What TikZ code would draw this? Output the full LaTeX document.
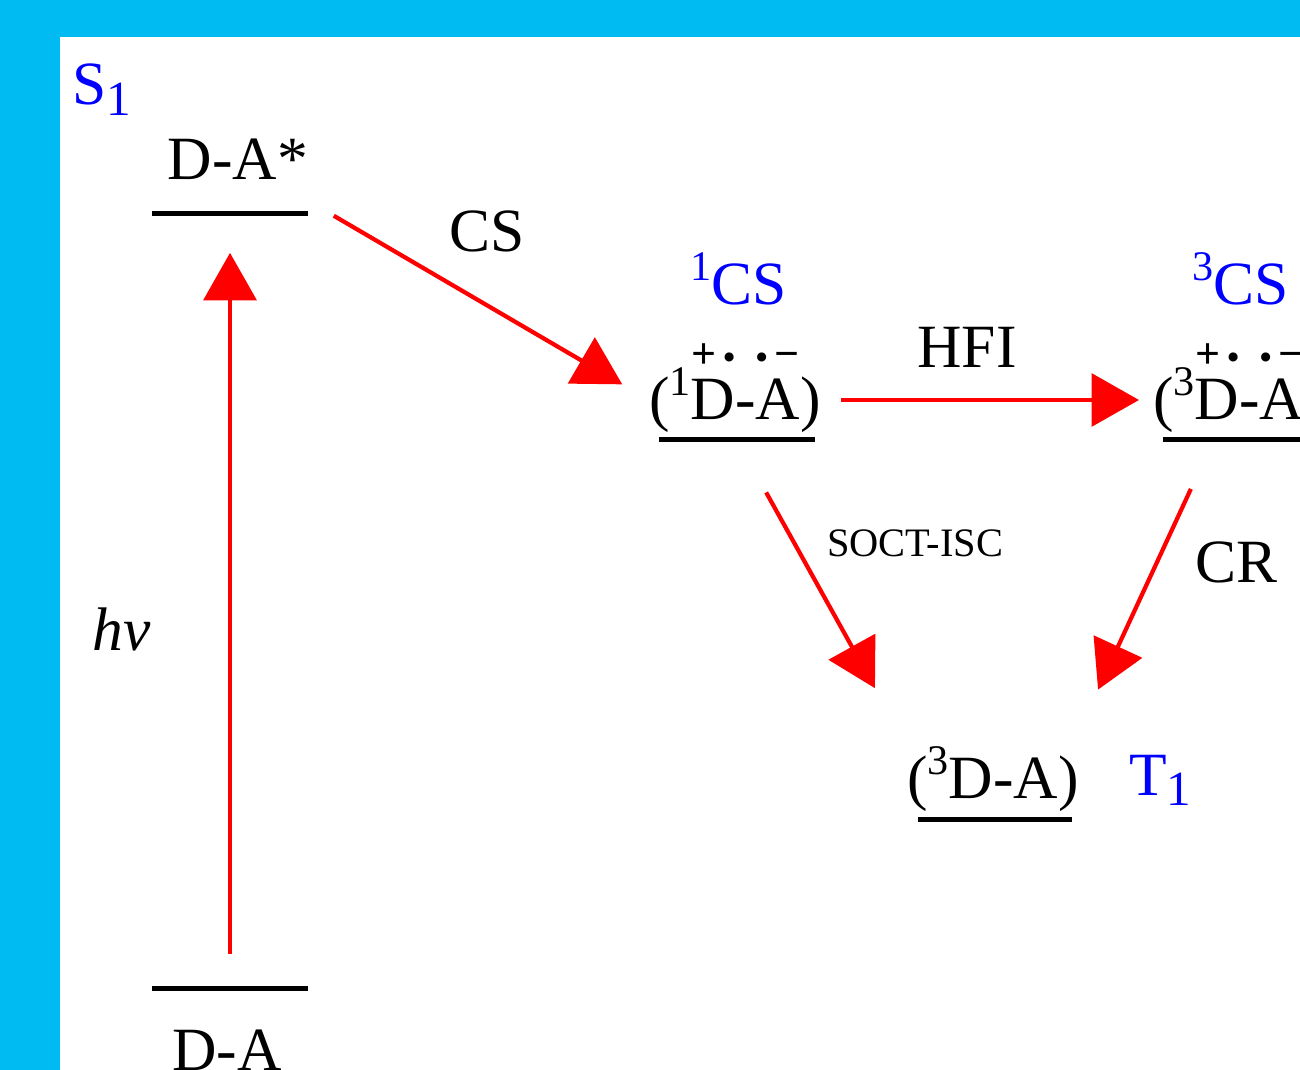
\documentclass[tikz,border=0pt]{standalone}
\usepackage{fontspec}
\setmainfont{Liberation Serif}
\usetikzlibrary{arrows.meta}
\definecolor{panelcyan}{RGB}{0,187,242}
\newcommand\upnum[1]{\raisebox{0.4em}{\fontsize{24}{24}\selectfont #1}}
\newcommand\dnnum[1]{\raisebox{-0.17em}{\fontsize{28}{28}\selectfont #1}}
\newcommand\dotc{{\fontsize{19}{19}\selectfont •}}
\newcommand\radtop[2]{\leavevmode\setbox0\hbox{#2}\rlap{\hbox to\wd0{\hss\smash{\raisebox{0.84em}{\fontsize{25}{25}\selectfont\bfseries #1}}\hss}}\box0}
\begin{document}
\begin{tikzpicture}[x=0.02cm, y=-0.02cm,
    lvl/.style={fill=black, inner sep=0, minimum height=0.1cm, minimum width=3.12cm},
    txt/.style={inner sep=0, font=\fontsize{35}{42}\selectfont},
    small/.style={inner sep=0, font=\fontsize{23}{28}\selectfont},
    state/.style={txt, text=blue},
    trans/.style={draw=red, line width=2.4pt, -{Triangle[length=27pt, width=30pt]}}]
    \useasboundingbox (0,0) rectangle (1300,1070);
    \fill[panelcyan] (0,0) rectangle (1300,1070);
    \fill[white] (60,37) rectangle (1300,1070);
    % energy levels
    \node[lvl] (es) at (230,214) {};
    \node[lvl] (gs) at (230,988) {};
    \node[lvl] (lv1) at (737,440) {};
    \node[lvl] (lv3) at (1241,440) {};
    \node[lvl, minimum width=3.08cm] (lvt) at (995,819) {};
    \node[txt, anchor=base] (das) at (238,180) {D-A*};
    \node[txt, anchor=base] (da) at (227,1070) {D-A};
    \node[txt] (r1) at (735,400) {(\upnum{1}\radtop{+\,\dotc}{D}-\radtop{\dotc\,−}{A})};
    \node[txt] (r3) at (1239,400) {(\upnum{3}\radtop{+\,\dotc}{D}-\radtop{\dotc\,−}{A})};
    \node[txt] (tr) at (993,779) {(\upnum{3}D-A)};
    \node[state, anchor=base west] (s1) at (72,105) {S\dnnum{1}};
    \node[state, anchor=base] (cs1) at (739,305) {\upnum{1}CS};
    \node[state, anchor=base] (cs3) at (1241,305) {\upnum{3}CS};
    \node[state, anchor=base west] (t1) at (1129,795) {T\dnnum{1}};
    % transitions
    \draw[trans, shorten <=0.62cm, shorten >=0.72cm] (gs) -- (es);
    \draw[trans, shorten <=2.22cm, shorten >=0.62cm] (das.center) -- (r1.west);
    \draw[trans, shorten <=0.4cm, shorten >=0.28cm] (r1.east) -- (r3.west);
    \draw[trans, shorten <=1.2cm, shorten >=1.32cm] (lv1.center) -- (tr.north west);
    \draw[trans, shorten <=1.96cm, shorten >=1.24cm] ([xshift=-0.14cm]r3.center) -- ([xshift=-0.14cm]tr.north east);
    \node[txt, anchor=base] (lhv) at (122,650) {\textit{hv}};
    \node[txt, anchor=base] (lcs) at (487,252) {CS};
    \node[txt, anchor=base] (lhfi) at (967,368) {HFI};
    \node[small, anchor=base] (lsoct) at (915,556) {SOCT-ISC};
    \node[txt, anchor=base] (lcr) at (1236,582) {CR};
\end{tikzpicture}
\end{document}
